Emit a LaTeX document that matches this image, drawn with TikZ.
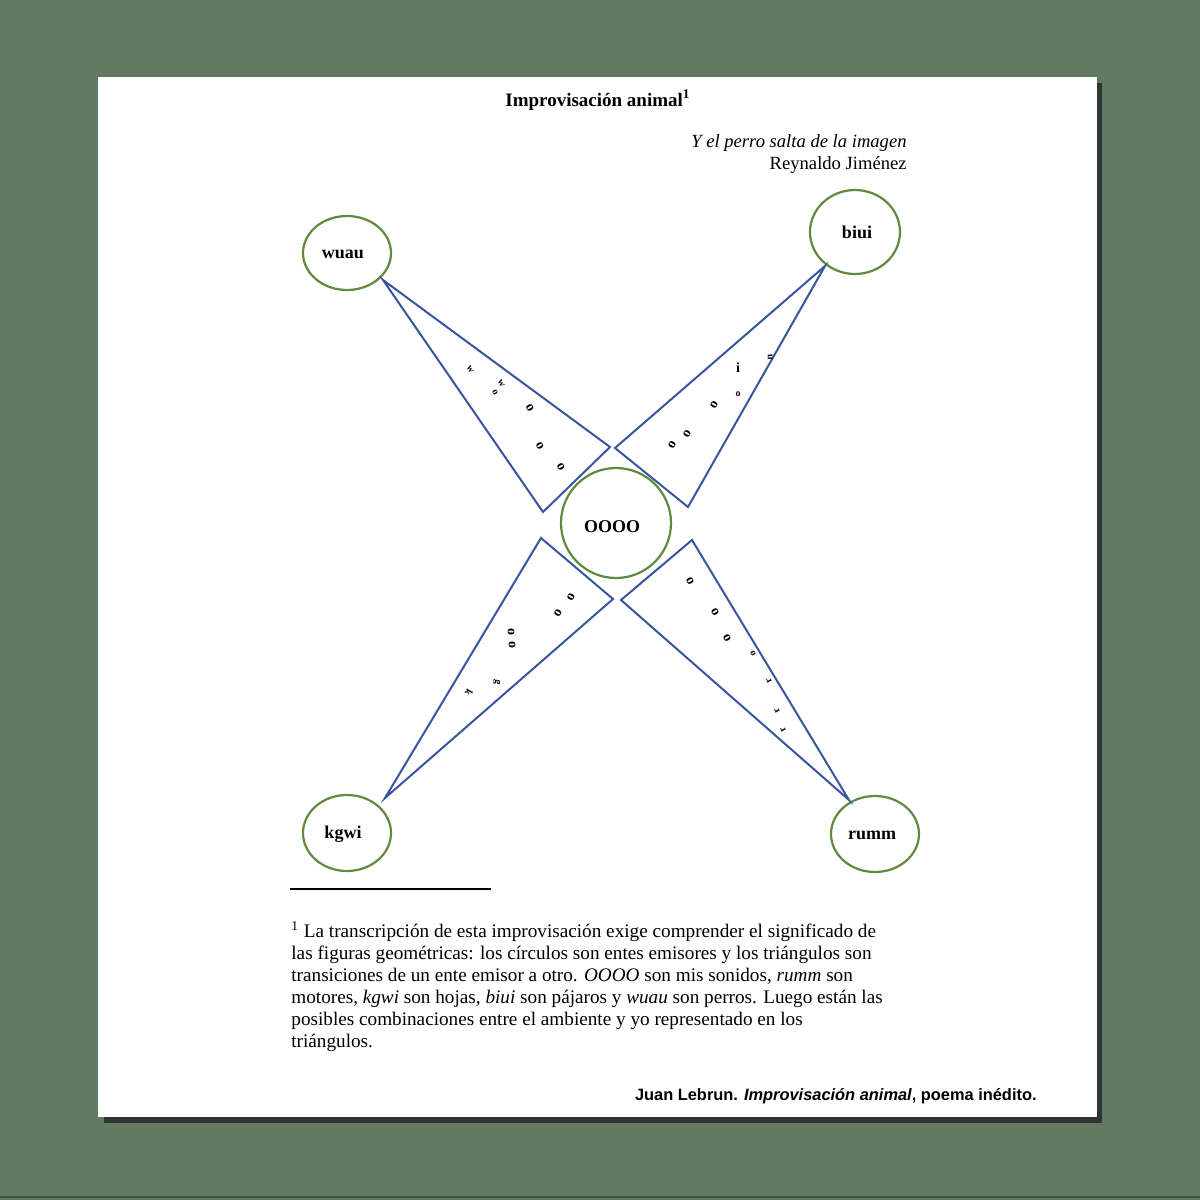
\documentclass[tikz,border=0pt]{standalone}
\usepackage{fontspec}
\setmainfont{Liberation Serif}
\newfontfamily\sansf{Liberation Sans}
\definecolor{bg}{HTML}{617A61}
\definecolor{cgreen}{HTML}{5F8A3F}
\definecolor{tblue}{HTML}{3A55A0}
\begin{document}
\begin{tikzpicture}[x=0.5pt,y=-0.5pt,
  circ/.style={draw=cgreen,line width=1.1pt},
  tri/.style={draw=tblue,line width=1pt,line join=miter},
  lab/.style={font=\fontsize{9}{10}\selectfont\bfseries},
  let/.style={font=\fontsize{7}{7}\selectfont\bfseries,inner sep=0pt},
  sml/.style={font=\fontsize{5}{5}\selectfont\bfseries,inner sep=0pt}]
\useasboundingbox (0,0) rectangle (1200,1200);
\fill[bg] (0,0) rectangle (1200,1200);
\fill[black!80] (104,83) rectangle (1102,1123);
\fill[white] (98,77) rectangle (1097,1117);
\draw[black!70,line width=0.6pt] (0,1197) -- (1200,1197);
% circles
\draw[circ] (347,253) ellipse [x radius=44,y radius=37];
\draw[circ] (855,232) ellipse [x radius=45,y radius=42];
\draw[circ] (616,523) ellipse [x radius=55,y radius=55];
\draw[circ] (347,833) ellipse [x radius=44,y radius=38];
\draw[circ] (875,834) ellipse [x radius=44,y radius=38];
\node[lab] (wuau) at (343,254) {wuau};
\node[lab] (biui) at (857,232) {biui};
\node[lab] (oooo) at (612,527) {OOOO};
\node[lab] (kgwi) at (343,834) {kgwi};
\node[lab] (rumm) at (872,835) {rumm};
% triangles
\draw[tri] (383,280) -- (610,447) -- (543,512) -- cycle;
\draw[tri] (825,266) -- (615,448) -- (688,507) -- cycle;
\draw[tri] (385,798) -- (541,538) -- (613,599) -- cycle;
\draw[tri] (849,800) -- (621,600) -- (692,540) -- cycle;
% letters T1
\node[sml,rotate=-60] at (470,369) {w};
\node[sml,rotate=-60] at (501,383) {w};
\node[sml,rotate=-60] at (495,393) {o};
\node[let,rotate=-60] at (530,408) {o};
\node[let,rotate=-60] at (540,446) {o};
\node[let,rotate=-60] at (561,467) {o};
% T2
\node[let,rotate=60] at (672,445) {o};
\node[let,rotate=60] at (687,434) {o};
\node[let,rotate=60] at (714,405) {o};
\node[sml] at (738,394) {o};
\node[let] at (738,368) {i};
\node[sml,rotate=-90] at (770,357) {u};
% T3
\node[sml,rotate=-120] at (469,693) {k};
\node[sml,rotate=-100] at (497,682) {g};
\node[let,rotate=-90] at (511,632) {o};
\node[let,rotate=-90] at (512,645) {o};
\node[let,rotate=-120] at (558,613) {o};
\node[let,rotate=-120] at (571,597) {o};
% T4
\node[let,rotate=120] at (690,581) {o};
\node[let,rotate=120] at (715,612) {o};
\node[let,rotate=120] at (727,638) {o};
\node[sml,rotate=120] at (753,653) {o};
\node[sml,rotate=120] at (769,681) {r};
\node[sml,rotate=120] at (777,711) {r};
\node[sml,rotate=120] at (783,730) {r};
% texts
\node[font=\fontsize{9.5}{11}\selectfont\bfseries] (title) at (598,100) {Improvisación animal\textsuperscript{1}};
\node[anchor=east,font=\fontsize{9.3}{11}\selectfont,align=right,inner sep=0pt] (epi) at (907,154) {\textit{Υ el perro salta de la imagen}\\Reynaldo Jiménez};
\draw[line width=0.6pt] (290,889) -- (491,889);
\node[anchor=north west,inner sep=0pt,align=left,font=\fontsize{9.6}{11}\selectfont] (fn) at (291,921)
{\textsuperscript{1} La transcripción de esta improvisación exige comprender el significado de\\
las figuras geométricas: los círculos son entes emisores y los triángulos son\\
transiciones de un ente emisor a otro. \textit{OOOO} son mis sonidos, \textit{rumm} son\\
motores, \textit{kgwi} son hojas, \textit{biui} son pájaros y \textit{wuau} son perros. Luego están las\\
posibles combinaciones entre el ambiente y yo representado en los\\
triángulos.};
\node[anchor=east,inner sep=0pt,font=\sansf\fontsize{8.2}{9}\selectfont\bfseries] (cred) at (1037,1096) {Juan Lebrun. \textit{Improvisación animal}, poema inédito.};
\end{tikzpicture}
\end{document}
